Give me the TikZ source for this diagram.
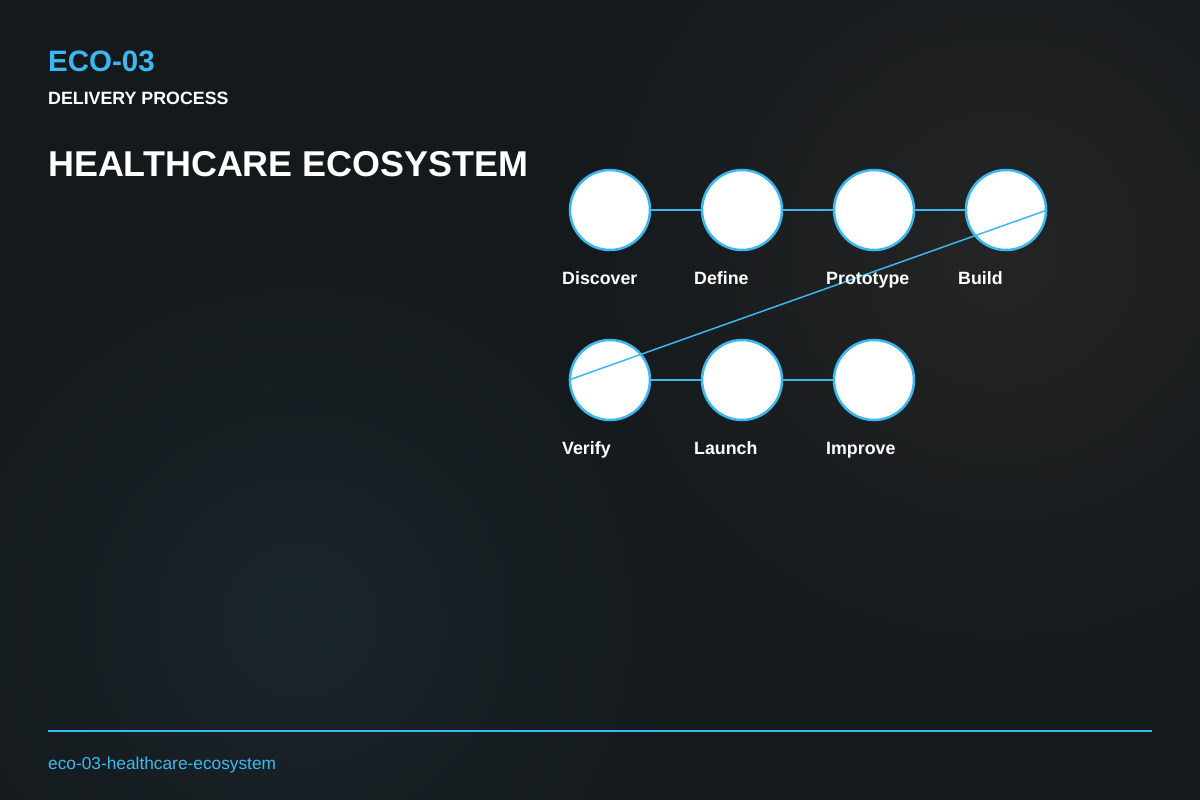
\documentclass[tikz,border=0pt]{standalone}
\usepackage{fontspec}
\setmainfont{Liberation Sans}
\definecolor{acc}{HTML}{3BB8F0}
\definecolor{bgA}{HTML}{14191C}
\definecolor{bgB}{HTML}{242424}
\definecolor{bgC}{HTML}{1A252B}
\begin{document}
\begin{tikzpicture}[x=1pt,y=-1pt,
  stepnode/.style={circle,draw=acc,line width=2.5pt,fill=white,minimum size=80pt,inner sep=0pt},
  lbl/.style={anchor=base west,text=white,font=\bfseries\fontsize{17.8}{20}\selectfont,inner sep=0pt},
  conn/.style={acc,line width=2.5pt}]
\useasboundingbox (0,0) rectangle (1200,800);
\begin{scope}
\clip (0,0) rectangle (1200,800);
\fill[bgA] (0,0) rectangle (1200,800);
\shade[inner color=bgB,outer color=bgA] (1000,250) circle (450);
\shade[inner color=bgC,outer color=bgA] (300,620) circle (380);
\end{scope}
\node[anchor=base west,inner sep=0pt,text=acc,font=\bfseries\fontsize{29.5}{32}\selectfont] (t1) at (48,71) {ECO-03};
\node[anchor=base west,inner sep=0pt,text=white,font=\bfseries\fontsize{17.8}{20}\selectfont] (t2) at (48,104) {DELIVERY PROCESS};
\node[anchor=base west,inner sep=0pt,text=white,font=\bfseries\fontsize{35.9}{40}\selectfont] (t3) at (48,176) {HEALTHCARE ECOSYSTEM};
\foreach \n/\x/\y in {a/610/210,b/742/210,c/874/210,d/1006/210,e/610/380,f/742/380,g/874/380}
  \coordinate (p\n) at (\x,\y);
\draw[conn] (pa)--(pd); \draw[conn] (pe)--(pg);
\foreach \n in {a,b,c,d,e,f,g} \node[stepnode] (\n) at (p\n) {};
\draw[acc,line width=1.5pt] (e.west) -- (d.east);
\node[lbl] (la) at (562,284) {Discover};
\node[lbl] (lb) at (694,284) {Define};
\node[lbl] (lc) at (826,284) {Prototype};
\node[lbl] (ld) at (958,284) {Build};
\node[lbl] (le) at (562,454) {Verify};
\node[lbl] (lf) at (694,454) {Launch};
\node[lbl] (lg) at (826,454) {Improve};
\coordinate (f1) at (48,731); \coordinate (f2) at (1152,731);
\draw[acc,line width=1.5pt] (f1)--(f2);
\node[anchor=base west,inner sep=0pt,text=acc,font=\fontsize{17.3}{20}\selectfont] (ft) at (48,769) {eco-03-healthcare-ecosystem};
\end{tikzpicture}
\end{document}
